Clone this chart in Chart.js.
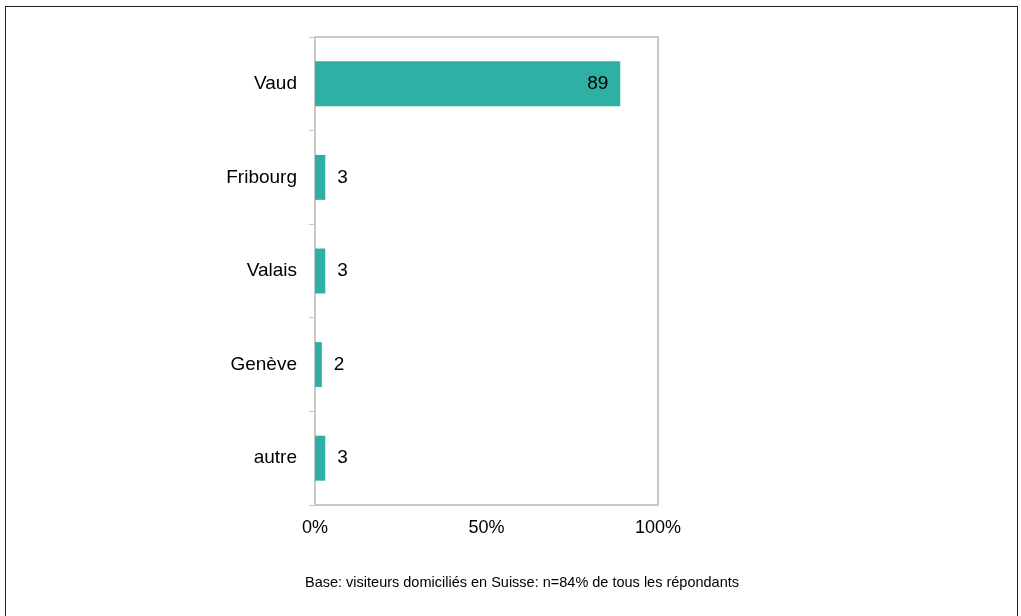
<!DOCTYPE html>
<html>
<head>
<meta charset="utf-8">
<script src="https://cdn.jsdelivr.net/npm/chart.js@4/dist/chart.umd.min.js"></script>
<style>
  html, body { margin: 0; padding: 0; background: #fff; }
  #wrap { position: relative; width: 1021px; height: 616px; overflow: hidden; }
  #frame { position: absolute; left: 5px; top: 6px; width: 1013px; height: 700px; border: 1px solid #222; box-sizing: border-box; }
  #note { position: absolute; left: 0; width: 1044px; top: 573px; line-height: 18px; text-align: center;
          font-family: "Liberation Sans", Arial, sans-serif; font-size: 14.5px; color: #000; }
</style>
</head>
<body>
<div id="wrap">
  <canvas id="regionsChart" width="1021" height="616"></canvas>
  <div id="frame"></div>
  <div id="note">Base: visiteurs domiciliés en Suisse: n=84% de tous les répondants</div>
</div>
<script>
// Données
const cantons = ['Vaud', 'Fribourg', 'Valais', 'Genève', 'autre'];
const pourcentages = [89, 3, 3, 2, 3];
const ticksX = [0, 50, 100];

const police = '"Liberation Sans", Arial, sans-serif';

// Cadre gris autour de la zone du graphique
const cadrePlugin = {
    id: 'cadre',
    afterDraw(chart) {
        const { ctx, chartArea } = chart;
        ctx.save();
        ctx.strokeStyle = '#c8c8c8';
        ctx.lineWidth = 2;
        ctx.beginPath();
        ctx.moveTo(chartArea.left, chartArea.top);
        ctx.lineTo(chartArea.right, chartArea.top);
        ctx.lineTo(chartArea.right, chartArea.bottom);
        ctx.stroke();
        ctx.restore();
    }
};

// Étiquettes de valeur sur les barres
const etiquettesPlugin = {
    id: 'etiquettes',
    afterDatasetsDraw(chart) {
        const { ctx } = chart;
        const meta = chart.getDatasetMeta(0);
        ctx.save();
        ctx.font = '19px ' + police;
        ctx.fillStyle = '#000';
        ctx.textBaseline = 'middle';
        meta.data.forEach((bar, i) => {
            const v = pourcentages[i];
            if (v > 20) {
                ctx.textAlign = 'right';
                ctx.fillText(v, bar.x - 12, bar.y);
            } else {
                ctx.textAlign = 'left';
                ctx.fillText(v, bar.x + 12, bar.y);
            }
        });
        ctx.restore();
    }
};

function createRegionsChart() {
    const ctx = document.getElementById('regionsChart').getContext('2d');

    new Chart(ctx, {
        type: 'bar',
        data: {
            labels: cantons,
            datasets: [{
                data: pourcentages,
                backgroundColor: '#2eb0a4',
                borderWidth: 0,
                categoryPercentage: 1,
                barPercentage: 0.48
            }]
        },
        options: {
            responsive: false,
            animation: false,
            indexAxis: 'y',
            layout: { padding: { left: 0, right: 363, top: 37, bottom: 0 } },
            plugins: {
                legend: { display: false },
                tooltip: { enabled: false }
            },
            scales: {
                x: {
                    min: 0,
                    max: 100,
                    afterBuildTicks: (scale) => { scale.ticks = ticksX.map(v => ({ value: v })); },
                    afterFit: (scale) => { scale.height = 111; },
                    grid: { display: false, drawTicks: false },
                    border: { display: true, color: '#c8c8c8', width: 2 },
                    ticks: {
                        padding: 12,
                        color: '#000',
                        font: { family: police, size: 18 },
                        callback: (v) => v + '%'
                    }
                },
                y: {
                    afterFit: (scale) => { scale.width = 315; },
                    grid: {
                        offset: true,
                        drawOnChartArea: false,
                        tickLength: 6,
                        color: '#c8c8c8',
                        lineWidth: 1
                    },
                    border: { display: true, color: '#c8c8c8', width: 2 },
                    ticks: {
                        padding: 12,
                        color: '#000',
                        font: { family: police, size: 19 }
                    }
                }
            }
        },
        plugins: [cadrePlugin, etiquettesPlugin]
    });
}

document.addEventListener('DOMContentLoaded', createRegionsChart);
</script>
</body>
</html>
